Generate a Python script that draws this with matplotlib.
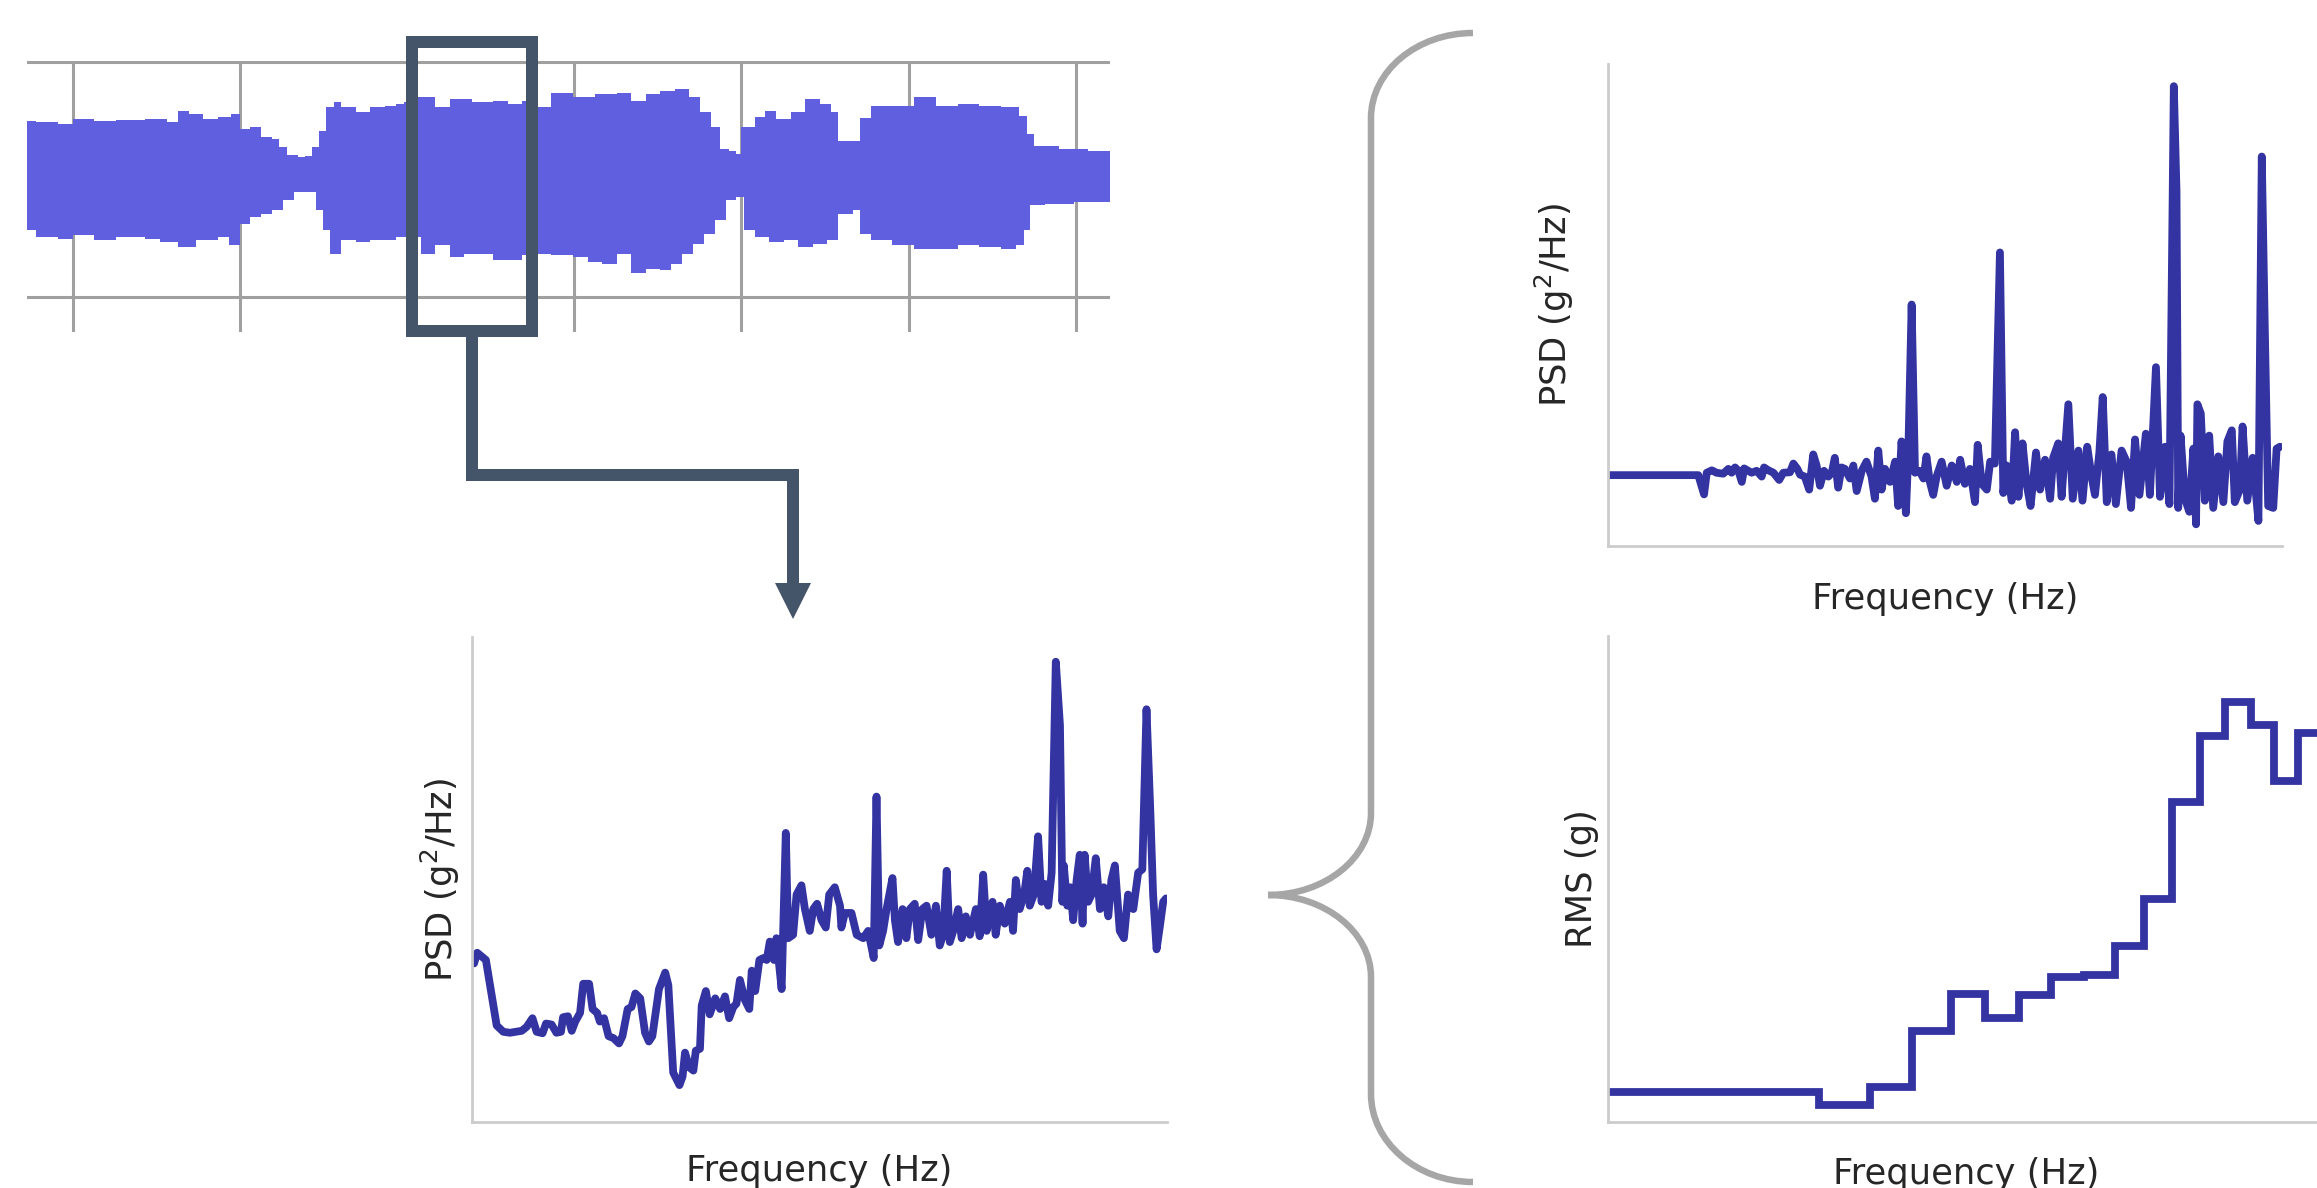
import numpy as np
import matplotlib.pyplot as plt
from matplotlib.patches import Rectangle, Polygon, PathPatch
from matplotlib.path import Path

W, H = 2317, 1188
DPI = 200

# --- time signal envelope (top left), time in s, amplitude in g ---
wave_t_up = [7.27, 7.83, 9.13, 10.0, 11.30, 12.60, 14.34, 15.64, 16.29, 16.94, 17.81, 18.68, 19.46, 19.98,
             20.63, 21.28, 21.93, 22.36, 22.80, 23.45, 23.88, 24.32, 24.75, 25.18, 25.62, 26.05, 26.92, 27.79,
             28.66, 29.31, 29.83, 30.61, 31.69, 32.56, 33.86, 35.16, 36.03, 36.90, 37.77, 38.63, 39.93, 41.24,
             42.54, 43.41, 44.27, 45.14, 46.01, 46.88, 47.53, 48.18, 48.70, 49.26, 49.70, 50.00, 50.78, 51.43,
             52.08, 52.95, 53.82, 54.69, 55.34, 55.77, 56.64, 57.07, 57.72, 59.02, 60.33, 61.63, 62.93, 64.23,
             65.53, 66.62, 67.05, 67.48, 69.00, 70.74, 72.04]
wave_up = [0.497, 0.483, 0.469, 0.511, 0.497, 0.503, 0.511, 0.483, 0.582, 0.554, 0.511, 0.525, 0.554, 0.427,
           0.441, 0.356, 0.342, 0.271, 0.203, 0.186, 0.198, 0.271, 0.412, 0.610, 0.653, 0.610, 0.568, 0.610,
           0.624, 0.638, 0.653, 0.695, 0.610, 0.681, 0.653, 0.667, 0.638, 0.667, 0.610, 0.737, 0.695, 0.723,
           0.737, 0.667, 0.723, 0.751, 0.766, 0.695, 0.568, 0.441, 0.257, 0.243, 0.215, 0.441, 0.525, 0.582,
           0.511, 0.568, 0.681, 0.638, 0.568, 0.328, 0.328, 0.523, 0.624, 0.624, 0.695, 0.624, 0.638, 0.624,
           0.610, 0.540, 0.384, 0.285, 0.257, 0.243, 0.257]

wave_t_lo = [7.27, 7.83, 9.13, 10.0, 11.30, 12.60, 14.34, 15.21, 16.29, 17.38, 18.68, 19.33, 19.98, 20.63,
             21.28, 21.93, 22.58, 23.23, 23.88, 24.53, 24.97, 25.40, 26.05, 26.92, 27.79, 28.66, 29.31, 30.83,
             31.69, 32.56, 33.43, 34.30, 35.16, 36.03, 36.90, 37.77, 38.63, 39.93, 40.80, 41.67, 42.54, 43.41,
             44.27, 45.14, 45.79, 46.44, 47.09, 47.74, 48.40, 49.05, 49.70, 50.13, 50.78, 51.65, 52.52, 53.38,
             54.25, 55.12, 55.77, 56.64, 57.07, 57.72, 59.02, 60.33, 61.63, 62.93, 64.23, 65.53, 66.40, 66.92,
             67.27, 68.13, 69.87, 72.04]
wave_lo = [-0.435, -0.492, -0.506, -0.477, -0.520, -0.492, -0.506, -0.534, -0.576, -0.520, -0.492, -0.562,
           -0.379, -0.322, -0.294, -0.266, -0.181, -0.110, -0.110, -0.266, -0.435, -0.633, -0.520, -0.534,
           -0.520, -0.520, -0.492, -0.633, -0.562, -0.661, -0.633, -0.633, -0.689, -0.689, -0.647, -0.633,
           -0.647, -0.661, -0.703, -0.718, -0.633, -0.802, -0.760, -0.774, -0.718, -0.633, -0.548, -0.463,
           -0.350, -0.181, -0.153, -0.435, -0.492, -0.534, -0.520, -0.576, -0.548, -0.520, -0.294, -0.266,
           -0.463, -0.520, -0.562, -0.590, -0.590, -0.562, -0.576, -0.590, -0.562, -0.435, -0.223, -0.209,
           -0.195, -0.153]
wave_ticks = [10, 20, 30, 40, 50, 60, 70]

# --- PSD of the highlighted window (bottom left) ---
win_freq = [6, 15, 40, 71, 90, 109, 143, 157, 174, 186, 203, 213, 229, 243, 256, 262, 276, 287, 297, 311,
            320, 337, 347, 360, 368, 380, 393, 407, 423, 433, 448, 459, 470, 484, 498, 509, 519, 538, 556, 565,
            579, 597, 606, 613, 625, 637, 644, 656, 661, 673, 684, 700, 714, 728, 740, 752, 761, 771, 785, 798,
            805, 815, 827, 838, 848, 857, 869, 876,
            891, 903, 910, 924, 934, 948, 958, 972, 982, 993, 1006, 1018, 1028, 1044, 1059, 1063, 1073, 1092,
            1107, 1126, 1140, 1156, 1164, 1172, 1183, 1193, 1210, 1217, 1226, 1239, 1250, 1260, 1274, 1284,
            1296, 1308, 1322, 1335, 1346, 1356, 1366, 1375, 1385, 1399, 1409, 1421, 1433, 1450, 1461, 1471,
            1481, 1498, 1507, 1519, 1533, 1548, 1557, 1565, 1576, 1589, 1598, 1605, 1617, 1629, 1639, 1648,
            1658, 1668, 1680, 1692, 1699, 1703, 1713, 1722, 1730, 1740, 1749, 1757, 1763, 1773, 1783, 1795,
            1807, 1818, 1831, 1840, 1850, 1864, 1876, 1888, 1903, 1917, 1929, 1941, 1952, 1960, 1970, 1979,
            1989, 1997]
win_psd = [32.7, 34.9, 33.4, 19.9, 18.6, 18.4, 18.8, 19.6, 21.4, 18.6, 18.3, 20.3, 20.1, 18.4, 18.6, 21.6,
           21.8, 18.8, 20.7, 22.5, 28.5, 28.5, 23.3, 22.5, 20.7, 21.4, 17.7, 17.3, 16.2, 17.7, 23.3, 23.7,
           26.5, 25.5, 18.4, 16.6, 17.7, 27.4, 30.8, 28.2, 10.2, 7.6, 9.4, 14.3, 11.3, 10.6, 14.7, 15.1, 24.0,
           27.0, 22.2, 25.5, 23.3, 25.9, 21.4, 23.7, 24.4, 29.3, 25.2, 23.3, 31.2, 27.0, 33.4, 33.8, 33.4,
           37.2, 33.4, 37.9,
           27.4, 59.6, 37.9, 38.6, 46.9, 48.8, 43.9, 39.4, 43.9, 45.0, 41.6, 40.1, 46.9, 48.4, 44.6, 40.1,
           43.1, 43.1, 38.6, 37.9, 39.4, 33.8, 67.1, 36.4, 39.4, 43.9, 50.3, 41.6, 37.1, 43.9, 37.9, 43.9,
           45.0, 37.5, 43.9, 44.6, 38.6, 44.6, 36.4, 38.6, 51.8, 37.1, 39.4, 43.9, 37.9, 42.4, 38.6, 43.9,
           38.3, 51.0, 39.4, 45.4, 38.6, 44.6, 40.9, 45.4, 39.4, 49.9, 43.9, 46.9, 51.8, 44.6, 46.9, 58.9,
           45.4, 49.1, 44.6, 51.4, 94.9, 81.8, 45.4, 52.9, 44.6, 48.4, 41.6, 49.9, 55.1, 40.9, 55.1, 45.4,
           46.9, 54.4, 43.9, 48.4, 42.4, 49.9, 52.9, 39.4, 37.9, 46.9, 43.9, 51.4, 52.1, 85.1, 64.1, 46.9,
           35.6, 40.1, 45.4, 46.1]

# --- PSD of the full signal (top right) ---
full_freq = [1, 268, 285, 293, 308, 322, 342, 357, 367, 377, 387, 397, 404, 426, 441, 456, 463, 476, 491, 508,
             520, 540, 550, 562, 570, 584, 597, 609, 619, 629, 641, 654, 664, 673, 683, 693, 703, 718, 728, 738,
             753, 767, 782, 792, 802, 812, 822, 837, 852, 861, 871, 884, 891, 901, 911, 924, 936, 945, 955,
             965, 975, 990, 1005, 1020, 1035, 1045, 1059, 1074, 1089, 1097, 1109, 1124, 1134, 1148, 1163, 1173,
             1183, 1198, 1208, 1218, 1230, 1242, 1254, 1270, 1282, 1297, 1312, 1321, 1336, 1346, 1366, 1379,
             1396, 1408, 1422, 1435, 1445, 1458, 1468, 1480, 1494, 1507, 1524, 1539, 1552, 1564, 1577, 1596,
             1608, 1626, 1638, 1653, 1666, 1679, 1687, 1692, 1699, 1712, 1725, 1737, 1745, 1749, 1759, 1771,
             1784, 1796, 1811, 1826, 1838, 1851, 1860, 1875, 1883, 1897, 1913, 1930, 1940, 1949, 1959, 1974,
             1984, 1994]
full_psd = [14.7, 14.7, 10.7, 15.2, 15.7, 15.2, 15.0, 16.0, 15.2, 16.3, 15.6, 13.3, 16.1, 15.2, 15.6, 14.4,
            16.3, 15.7, 15.2, 13.7, 15.2, 15.3, 17.1, 16.0, 14.8, 14.4, 11.7, 19.0, 16.7, 12.5, 15.6, 14.4,
            15.2, 18.3, 12.1, 16.3, 16.0, 14.0, 16.7, 11.4, 15.6, 17.5, 14.4, 9.8, 19.8, 11.7, 16.0, 13.3,
            17.5, 8.3, 21.7, 6.8, 19.0, 50.1, 15.2, 15.6, 14.0, 18.6, 13.3,
            10.6, 14.4, 17.5, 12.5, 16.7, 13.3, 17.9, 12.9, 16.0, 9.1, 21.0, 12.9, 11.7, 17.5, 17.1, 60.9,
            11.0, 16.7, 9.4, 23.6, 10.2, 21.3, 12.9, 8.3, 19.4, 11.7, 17.9, 9.8, 18.3, 21.3, 10.2, 29.4, 9.8,
            19.8, 9.4, 20.6, 14.4, 10.6, 19.4, 30.9, 9.1, 19.0, 8.7, 19.8, 17.5, 7.9, 22.1, 10.6, 23.3, 10.6,
            37.1, 10.2, 20.6, 8.7, 95.4, 73.5, 7.9, 22.9, 9.8, 7.1, 20.2, 4.5, 29.4, 27.5, 9.4, 22.9, 7.9,
            18.6, 9.1, 21.7, 24.0, 9.1, 11.7, 24.8, 9.4, 18.3, 5.2, 80.8, 45.1, 8.3, 7.9, 20.2, 20.6]

# --- RMS per frequency band (bottom right) ---
band_edges = [0, 626, 777, 903, 1017, 1118, 1218, 1315, 1412, 1505, 1591, 1674, 1755, 1831, 1906, 1975,
              2046, 2124]
band_rms = [6.1, 3.5, 7.3, 18.7, 26.4, 21.5, 26.2, 29.8, 30.3, 36.3, 45.8, 65.9, 79.4, 86.4, 81.6, 70.2, 80.1]

wave_color = '#5f5fe0'
line_color = 'darkblue'
frame_color = '#445469'
text_color = '#262626'
fs = 12.7
lw_line = 2.8

plt.rcParams['font.family'] = 'DejaVu Sans'

fig = plt.figure(figsize=(W / DPI, H / DPI), dpi=DPI)


def px_axes(x0, y0, x1, y1):
    # axes placed by pixel box (y measured from top)
    return fig.add_axes([x0 / W, 1 - y1 / H, (x1 - x0) / W, (y1 - y0) / H])


def steps(t, a):
    xs = np.repeat(np.asarray(t, float), 2)[1:]
    ys = np.repeat(np.asarray(a, float), 2)[:-1]
    return xs, ys


def style_spec(ax, xl, yl, xpad, ypad):
    for s in ['top', 'right']:
        ax.spines[s].set_visible(False)
    for s in ['left', 'bottom']:
        ax.spines[s].set_color('#cccccc')
        ax.spines[s].set_linewidth(1.0)
    ax.set_xticks([])
    ax.set_yticks([])
    ax.set_xlabel(xl, fontsize=fs, color=text_color)
    ax.set_ylabel(yl, fontsize=fs, color=text_color)
    ax.xaxis.set_label_coords(0.5, xpad)
    ax.yaxis.set_label_coords(ypad, 0.5)


# waveform
ax_w = px_axes(27, 61, 1110, 332)
xu, yu = steps(wave_t_up, wave_up)
xl, yl = steps(wave_t_lo, wave_lo)
ax_w.fill(np.concatenate([xu, xl[::-1]]), np.concatenate([yu, yl[::-1]]), color=wave_color, lw=0, zorder=2)
ax_w.set_xlim(wave_t_up[0], wave_t_up[-1])
ax_w.set_ylim(-1.3, 1.005)
ax_w.set_xticks(wave_ticks)
ax_w.set_yticks([-1, 1])
ax_w.grid(True, color='#a0a0a0', lw=1.1)
ax_w.set_axisbelow(True)
ax_w.tick_params(length=0, labelbottom=False, labelleft=False)
for s in ax_w.spines.values():
    s.set_visible(False)

# window PSD
ax_p = px_axes(472, 637, 1167, 1122)
ax_p.plot(win_freq, win_psd, color=line_color, alpha=0.8, lw=lw_line,
          solid_joinstyle='round', solid_capstyle='round')
ax_p.set_xlim(0, 2000)
ax_p.set_ylim(0, 100)
style_spec(ax_p, 'Frequency (Hz)', 'PSD (g$^2$/Hz)', -0.066, -0.014)

# full PSD
ax_f = px_axes(1608, 64, 2282, 546)
ax_f.plot(full_freq, full_psd, color=line_color, alpha=0.8, lw=lw_line,
          solid_joinstyle='round', solid_capstyle='round')
ax_f.set_xlim(0, 2000)
ax_f.set_ylim(0, 100)
style_spec(ax_f, 'Frequency (Hz)', 'PSD (g$^2$/Hz)', -0.075, -0.048)

# RMS
ax_r = px_axes(1608, 636, 2324, 1122)
ax_r.stairs(band_rms, band_edges, baseline=None, color=line_color, alpha=0.8, lw=lw_line)
ax_r.set_xlim(band_edges[0], band_edges[-1])
ax_r.set_ylim(0, 100)
style_spec(ax_r, 'Frequency (Hz)', 'RMS (g)', -0.072, -0.013)

# overlay for the frame, connector arrow and brace (pixel units)
ov = fig.add_axes([0, 0, 1, 1], zorder=10)
ov.set_xlim(0, W)
ov.set_ylim(H, 0)
ov.axis('off')
ov.patch.set_alpha(0)

lw_frame = 12 * 72 / DPI
ov.add_patch(Rectangle((412, 42), 120, 289, fill=False, ec=frame_color, lw=lw_frame, joinstyle='miter'))
ov.plot([472, 472, 793, 793], [331, 475, 475, 586], color=frame_color, lw=lw_frame,
        solid_joinstyle='miter', solid_capstyle='butt')
ov.add_patch(Polygon([(775, 583), (811, 583), (793, 619)], closed=True, fc=frame_color, ec='none'))

verts = [(1473, 33), (1417, 33), (1371, 71), (1371, 118),
         (1371, 813),
         (1371, 858), (1325, 895), (1268, 895),
         (1325, 895), (1371, 932), (1371, 977),
         (1371, 1094),
         (1371, 1142), (1417, 1182), (1473, 1182)]
codes = [Path.MOVETO, Path.CURVE4, Path.CURVE4, Path.CURVE4,
         Path.LINETO,
         Path.CURVE4, Path.CURVE4, Path.CURVE4,
         Path.CURVE4, Path.CURVE4, Path.CURVE4,
         Path.LINETO,
         Path.CURVE4, Path.CURVE4, Path.CURVE4]
ov.add_patch(PathPatch(Path(verts, codes), fill=False, ec='#a6a6a6', lw=6.5 * 72 / DPI, capstyle='butt'))

fig.savefig('out.png', dpi=DPI)
